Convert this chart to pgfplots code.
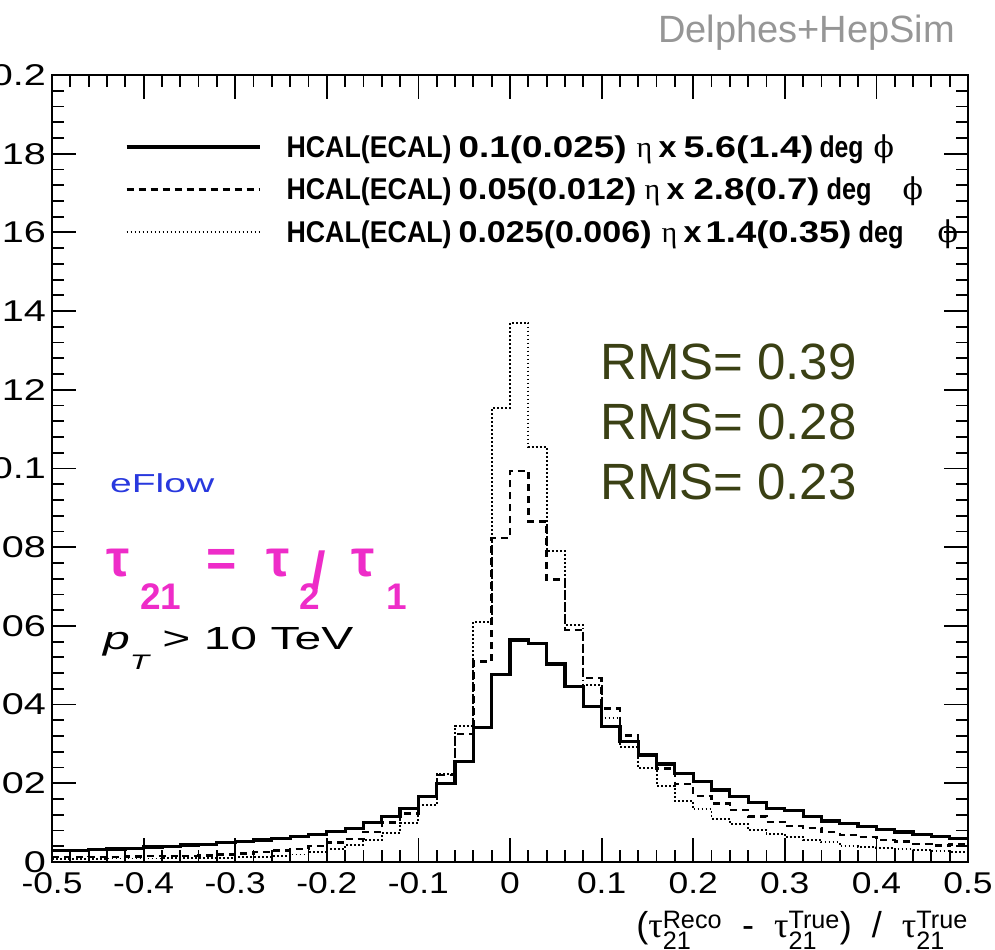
\documentclass[border=0pt]{standalone}
\usepackage{fontspec}
\setmainfont{Liberation Sans}
\newfontfamily\serifgreek{Liberation Serif}
\newfontfamily\symfont{DejaVu Serif}
\usepackage{amsmath}
\usepackage{graphicx}
\usepackage{pgfplots}
\pgfplotsset{compat=1.18}
\usepackage{pgfplotstable}

\definecolor{rmsgreen}{RGB}{58,64,20}
\definecolor{taupink}{RGB}{238,44,200}
\definecolor{flowblue}{RGB}{40,56,222}
\definecolor{taggray}{RGB}{150,150,150}

% tau21 resolution, bins of width 0.02 (x = lower bin edge)
\pgfplotstableread{
x      y
-0.50  0.0029
-0.48  0.0030
-0.46  0.0031
-0.44  0.0033
-0.42  0.0035
-0.40  0.0038
-0.38  0.0040
-0.36  0.0043
-0.34  0.0045
-0.32  0.0049
-0.30  0.0052
-0.28  0.0056
-0.26  0.0060
-0.24  0.0065
-0.22  0.0070
-0.20  0.0077
-0.18  0.0086
-0.16  0.0100
-0.14  0.0115
-0.12  0.0136
-0.10  0.0166
-0.08  0.0200
-0.06  0.0255
-0.04  0.0342
-0.02  0.0477
 0.00  0.0564
 0.02  0.0556
 0.04  0.0503
 0.06  0.0446
 0.08  0.0395
 0.10  0.0344
 0.12  0.0307
 0.14  0.0272
 0.16  0.0249
 0.18  0.0224
 0.20  0.0204
 0.22  0.0183
 0.24  0.0166
 0.26  0.0151
 0.28  0.0136
 0.30  0.0130
 0.32  0.0115
 0.34  0.0104
 0.36  0.0098
 0.38  0.0091
 0.40  0.0083
 0.42  0.0076
 0.44  0.0069
 0.46  0.0064
 0.48  0.0059
 0.50  0.0059
}\coarse

\pgfplotstableread{
x      y
-0.50  0.0012
-0.48  0.0012
-0.46  0.0013
-0.44  0.0013
-0.42  0.0014
-0.40  0.0015
-0.38  0.0015
-0.36  0.0016
-0.34  0.0017
-0.32  0.0019
-0.30  0.0022
-0.28  0.0025
-0.26  0.0029
-0.24  0.0033
-0.22  0.0040
-0.20  0.0050
-0.18  0.0059
-0.16  0.0077
-0.14  0.0100
-0.12  0.0123
-0.10  0.0166
-0.08  0.0221
-0.06  0.0325
-0.04  0.0510
-0.02  0.0823
 0.00  0.0994
 0.02  0.0865
 0.04  0.0718
 0.06  0.0590
 0.08  0.0467
 0.10  0.0390
 0.12  0.0321
 0.14  0.0275
 0.16  0.0238
 0.18  0.0198
 0.20  0.0168
 0.22  0.0149
 0.24  0.0132
 0.26  0.0116
 0.28  0.0102
 0.30  0.0091
 0.32  0.0087
 0.34  0.0076
 0.36  0.0069
 0.38  0.0064
 0.40  0.0056
 0.42  0.0052
 0.44  0.0046
 0.46  0.0042
 0.48  0.0044
 0.50  0.0044
}\medium

\pgfplotstableread{
x      y
-0.50  0.0008
-0.48  0.0008
-0.46  0.0008
-0.44  0.0009
-0.42  0.0009
-0.40  0.0009
-0.38  0.0010
-0.36  0.0010
-0.34  0.0011
-0.32  0.0011
-0.30  0.0012
-0.28  0.0013
-0.26  0.0015
-0.24  0.0019
-0.22  0.0026
-0.20  0.0034
-0.18  0.0043
-0.16  0.0056
-0.14  0.0074
-0.12  0.0100
-0.10  0.0145
-0.08  0.0223
-0.06  0.0346
-0.04  0.0610
-0.02  0.1153
 0.00  0.1370
 0.02  0.1054
 0.04  0.0790
 0.06  0.0602
 0.08  0.0450
 0.10  0.0365
 0.12  0.0293
 0.14  0.0240
 0.16  0.0194
 0.18  0.0156
 0.20  0.0134
 0.22  0.0109
 0.24  0.0097
 0.26  0.0081
 0.28  0.0072
 0.30  0.0063
 0.32  0.0056
 0.34  0.0050
 0.36  0.0040
 0.38  0.0039
 0.40  0.0035
 0.42  0.0032
 0.44  0.0030
 0.46  0.0027
 0.48  0.0026
 0.50  0.0026
}\fine

\newcommand{\sig}[2]{\text{\serifgreek τ}^{\text{#1}}_{\text{#2}}}
\newcommand{\subfont}{\fontsize{37bp}{40bp}\selectfont}
% legend piece: advance, printed width, text
\newcommand{\lp}[3]{\makebox[#1bp][l]{\resizebox{#2bp}{\height}{#3}}}
\newcommand{\leta}[1]{\makebox[#1bp][l]{\mdseries\serifgreek η}}
\newcommand{\lphi}{{\mdseries\symfont ϕ}}
% stretched tick labels
\newcommand{\xl}[1]{\scalebox{1.18}[1]{#1}}
\newcommand{\yl}[1]{\scalebox{1.32}[1]{#1}}

\begin{document}
\begin{tikzpicture}
\begin{axis}[
  at={(52bp,88bp)}, anchor=south west,
  scale only axis, width=916bp, height=787bp,
  xmin=-0.5, xmax=0.5, ymin=0, ymax=0.2,
  axis line style={line width=2.3bp},
  every tick/.style={black, line width=1.8bp},
  tick align=inside,
  xticklabel pos=lower, yticklabel pos=left,
  xtick pos=both, ytick pos=both,
  major tick length=24bp, minor tick length=12bp,
  xtick={-0.5,-0.4,-0.3,-0.2,-0.1,0,0.1,0.2,0.3,0.4,0.5},
  xticklabels={\xl{-0.5},\xl{-0.4},\xl{-0.3},\xl{-0.2},\xl{-0.1},\xl{0},\xl{0.1},\xl{0.2},\xl{0.3},\xl{0.4},\xl{0.5}},
  ytick={0,0.02,0.04,0.06,0.08,0.1,0.12,0.14,0.16,0.18,0.2},
  yticklabels={\yl{0},\yl{0.02},\yl{0.04},\yl{0.06},\yl{0.08},\yl{0.1},\yl{0.12},\yl{0.14},\yl{0.16},\yl{0.18},\yl{0.2}},
  minor x tick num=4, minor y tick num=4,
  xticklabel style={font=\fontsize{30bp}{36bp}\selectfont, inner sep=0pt, yshift=-10bp},
  yticklabel style={font=\fontsize{30bp}{36bp}\selectfont, inner sep=0pt, xshift=-6bp},
  legend style={
    at={(axis description cs:0.0797,0.9295)}, anchor=north west,
    draw=none, fill=none, inner sep=0pt, outer sep=0pt,
    row sep=9.5bp,
    font=\fontsize{30bp}{34bp}\selectfont\bfseries,
    nodes={text height=27bp, text depth=6bp, inner sep=0pt},
  },
  legend cell align=left,
  legend image code/.code={
    \draw[#1] (0bp,0bp) -- (133bp,0bp);
    \path[draw=none, fill=none] (133bp,0bp) -- (160bp,0bp);
  },
]
\addplot[const plot, black, line width=3.2bp] table {\coarse};
\addplot[const plot, black, line width=2.4bp, dash pattern=on 7bp off 5bp] table {\medium};
\addplot[const plot, black, line width=1.9bp, dash pattern=on 1.8bp off 2.2bp] table {\fine};
\legend{
  \lp{172}{165}{HCAL(ECAL)}\lp{178}{168}{0.1(0.025)}\leta{22}\lp{25}{18}{x}\lp{136}{130}{5.6(1.4)}\lp{54}{44}{deg}\lphi,
  \lp{172}{165}{HCAL(ECAL)}\lp{186}{178}{0.05(0.012)}\leta{22}\lp{27}{18}{x}\lp{133}{126}{2.8(0.7)}\lp{76}{45}{deg}\lphi,
  \lp{172}{165}{HCAL(ECAL)}\lp{203}{193}{0.025(0.006)}\leta{22}\lp{22}{18}{x}\lp{153}{146}{1.4(0.35)}\lp{79}{45}{deg}\lphi
}
\end{axis}

% headline tag
\node[anchor=base east, inner sep=0pt, text=taggray, font=\fontsize{38bp}{44bp}\selectfont]
  at (955bp,907bp) {Delphes+HepSim};

% resolution summaries
\begin{scope}[every node/.style={anchor=base west, inner sep=0pt, text=rmsgreen,
    font=\fontsize{51bp}{58bp}\selectfont}]
  \node at (600bp,570bp) {RMS= 0.39};
  \node at (600bp,510bp) {RMS= 0.28};
  \node at (600bp,450bp) {RMS= 0.23};
\end{scope}

\node[anchor=base west, inner sep=0pt, text=flowblue, font=\fontsize{26bp}{30bp}\selectfont]
  at (110bp,457bp) {\scalebox{1.5}[1]{eFlow}};

% tau21 = tau2 / tau1
\begin{scope}[every node/.style={anchor=base west, inner sep=0pt, text=taupink,
    font=\fontsize{52bp}{60bp}\selectfont\bfseries}]
  \node at (106bp,373bp) {τ};
  \node at (140bp,340bp) {\subfont 21};
  \node at (206bp,373bp) {=};
  \node at (266bp,373bp) {τ};
  \node at (299bp,340bp) {\subfont 2};
  \node at (311bp,361bp) {/};
  \node at (351bp,373bp) {τ};
  \node at (386bp,340bp) {\subfont 1};
\end{scope}

\node[anchor=base west, inner sep=0pt, font=\fontsize{32bp}{38bp}\selectfont]
  at (103bp,300bp) {\scalebox{1.5}[1]{\itshape p\raisebox{-20bp}{\fontsize{21bp}{24bp}\selectfont T}\upshape\ > 10 TeV}};

% axis title
\node[anchor=base east, inner sep=0pt, font=\fontsize{36bp}{42bp}\selectfont]
  at (968bp,13bp) {$\text{(}\sig{Reco}{21}\text{\ \ -\ \ }\sig{True}{21}\text{)\ \ /\ \ }\sig{True}{21}$};

\pgfresetboundingbox
\path[use as bounding box] (0bp,0bp) rectangle (995bp,950bp);
\end{tikzpicture}
\end{document}
